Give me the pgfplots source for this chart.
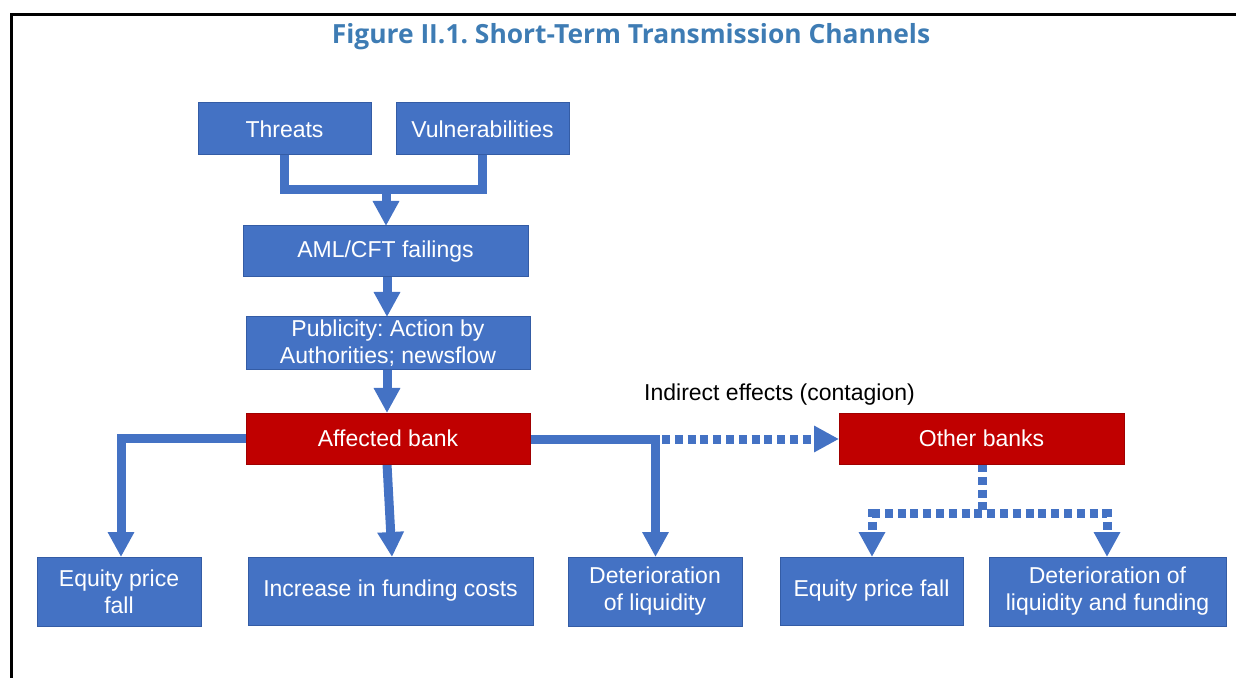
\documentclass[border=0pt]{standalone}
\usepackage{pgfplots}
\pgfplotsset{compat=1.18}
\usetikzlibrary{arrows.meta}
\usepackage{fontspec}
\setmainfont{Liberation Sans}
\newfontfamily\titlefont{Open Sans}
\frenchspacing
\definecolor{boxblue}{RGB}{68,114,196}
\definecolor{boxedge}{RGB}{52,92,165}
\definecolor{boxred}{RGB}{192,0,0}
\definecolor{rededge}{RGB}{160,0,0}
\definecolor{titleblue}{RGB}{62,124,180}
\tikzset{
  bbox/.style={fill=boxblue, draw=boxedge, line width=0.5pt},
  rbox/.style={fill=boxred, draw=rededge, line width=0.5pt},
  btxt/.style={text=white, align=center, font=\fontsize{11.5}{13.5}\selectfont, inner sep=0pt},
  conn/.style={draw=boxblue, line width=4.5pt, line join=miter, line cap=butt},
  arr/.style={conn, -{Triangle[width=12.5pt,length=12.5pt]}},
  dots/.style={dash pattern=on 4pt off 2.4pt},
}
\begin{document}
\begin{tikzpicture}
\begin{axis}[scale only axis, width=618pt, height=339pt,
  xmin=0, xmax=1236, ymin=0, ymax=678, y dir=reverse,
  hide axis, clip=false]
% frame
\draw[black, line width=1.3pt] (axis cs:11.3,678) -- (axis cs:11.3,14.3) -- (axis cs:1236,14.3);
% title
\node[text=titleblue, font=\titlefont\bfseries\fontsize{13.2}{15}\selectfont] at (axis cs:631,37) {Figure II.1. Short-Term Transmission Channels};
% connectors top
\draw[conn] (axis cs:284,155) -- (axis cs:284,189.5) -- (axis cs:482,189.5) -- (axis cs:482,155);
\draw[arr] (axis cs:386,187) -- (axis cs:386,226);
\draw[arr] (axis cs:387,277) -- (axis cs:387,317);
\draw[arr] (axis cs:387,370) -- (axis cs:387,413);
% affected bank branches
\draw[arr] (axis cs:246,438) -- (axis cs:121,438) -- (axis cs:121,557);
\draw[arr] (axis cs:387,464) -- (axis cs:392,557);
\draw[arr] (axis cs:530,439) -- (axis cs:655.5,439) -- (axis cs:655.5,557);
\draw[arr, dots] (axis cs:662,439) -- (axis cs:839,439);
% other banks branches
\draw[conn, dots] (axis cs:982,464) -- (axis cs:982,513);
\draw[conn, dots] (axis cs:872,513) -- (axis cs:1107,513);
\draw[arr, dots] (axis cs:872,509) -- (axis cs:872,557);
\draw[arr, dots] (axis cs:1107,509) -- (axis cs:1107,557);
% boxes
\draw[bbox] (axis cs:198,103) rectangle (axis cs:371,155);
\node[btxt] at (axis cs:284.5,129) {Threats};
\draw[bbox] (axis cs:396,103) rectangle (axis cs:569,155);
\node[btxt] at (axis cs:482.5,129) {Vulnerabilities};
\draw[bbox] (axis cs:243,226) rectangle (axis cs:528,277);
\node[btxt] at (axis cs:385.5,251.5) {AML/CFT failings};
\draw[bbox] (axis cs:246,317) rectangle (axis cs:530,370);
\node[btxt] at (axis cs:388,343.5) {Publicity: Action by\\Authorities; newsflow};
\draw[rbox] (axis cs:246,413) rectangle (axis cs:530,464);
\node[btxt] at (axis cs:388,438.5) {Affected bank};
\draw[rbox] (axis cs:839,413) rectangle (axis cs:1124,464);
\node[btxt] at (axis cs:981.5,438.5) {Other banks};
\node[font=\fontsize{11.5}{13.5}\selectfont, inner sep=0pt] at (axis cs:779.5,394.5) {Indirect effects (contagion)};
\draw[bbox] (axis cs:37,557) rectangle (axis cs:201,626);
\node[btxt] at (axis cs:119,591.5) {Equity price\\fall};
\draw[bbox] (axis cs:248,557) rectangle (axis cs:533,625);
\node[btxt] at (axis cs:390.5,591) {Increase in funding costs};
\draw[bbox] (axis cs:568,557) rectangle (axis cs:742,626);
\node[btxt] at (axis cs:655,591.5) {Deterioration\\of liquidity};
\draw[bbox] (axis cs:780,557) rectangle (axis cs:963,625);
\node[btxt] at (axis cs:871.5,591) {Equity price fall};
\draw[bbox] (axis cs:989,557) rectangle (axis cs:1226,626);
\node[btxt] at (axis cs:1107.5,591.5) {Deterioration of\\liquidity and funding};
\end{axis}
\pgfresetboundingbox
\useasboundingbox (current axis.south west) rectangle (current axis.north east);
\end{tikzpicture}
\end{document}
